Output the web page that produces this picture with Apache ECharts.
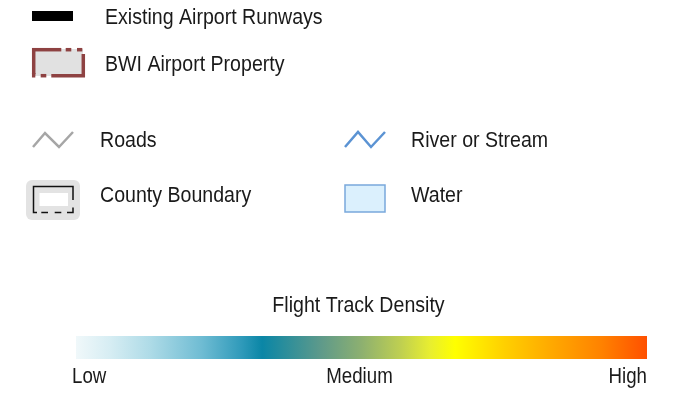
<!DOCTYPE html>
<html>
<head>
<meta charset="utf-8">
<script src="https://cdn.jsdelivr.net/npm/echarts@6/dist/echarts.min.js"></script>
<style>
  html, body { margin: 0; padding: 0; background: #fff; }
  #main { width: 687px; height: 402px; }
</style>
</head>
<body>
<div id="main"></div>
<script>
// legend entries
var legendNames = ['Existing Airport Runways', 'BWI Airport Property', 'Roads', 'River or Stream', 'County Boundary', 'Water'];
// density scale
var densityTitle = 'Flight Track Density';
var densityLabels = ['Low', 'Medium', 'High'];
var densityTicks = [0, 0.5, 1];
var stopOffsets = [0, 0.06, 0.13, 0.22, 0.29, 0.326, 0.43, 0.5, 0.57, 0.62, 0.664, 0.75, 0.83, 0.92, 1];
var stopColors = ['#f0f8fa', '#d6edf3', '#aedbe7', '#6fbcd3', '#2f9aba', '#0a86a6', '#5f9a8a', '#8db070', '#c0d050', '#e8ee30', '#ffff00', '#ffd000', '#ffaa00', '#ff8200', '#ff5000'];

var FONT = "'Liberation Sans', Arial, sans-serif";
var TXT = '#1a1a1a';

var myChart = echarts.init(document.getElementById('main'));

var stops = stopOffsets.map(function (o, i) {
  return { offset: o, color: stopColors[i] };
});

function seg(pts, color, w) {
  return {
    type: 'polyline',
    shape: { points: pts },
    style: { stroke: color, lineWidth: w, fill: null }
  };
}
// the original uses a condensed face, so squeeze the text a bit
function label(text, x, y, align, narrow) {
  return {
    type: 'text', x: x, y: y, scaleX: narrow || 0.89,
    style: {
      text: text, font: '22px ' + FONT, fill: TXT,
      textAlign: align || 'left', textVerticalAlign: 'middle'
    }
  };
}

var red = '#8e4242';
var graphics = [
  // runways
  { type: 'rect', shape: { x: 32, y: 11, width: 41, height: 10 }, style: { fill: '#000' } },
  // airport property
  { type: 'rect', shape: { x: 33, y: 49, width: 50, height: 27 }, style: { fill: '#e1e1e1' } },
  seg([[32, 49.7], [61.3, 49.7]], red, 3.5),
  seg([[65.7, 49.7], [71.3, 49.7]], red, 3.5),
  seg([[77, 49.7], [82.3, 49.7]], red, 3.5),
  seg([[83.3, 54], [83.3, 75.7], [51.3, 75.7]], red, 3.5),
  seg([[46.3, 75.7], [40.7, 75.7]], red, 3.5),
  seg([[35.3, 75.7], [33.7, 75.7], [33.7, 73]], red, 3.5),
  seg([[33.7, 74], [33.7, 48]], red, 3.5),
  // roads
  seg([[33, 147], [45, 133], [59, 147], [73, 132]], '#a6a6a6', 2.5),
  // river
  seg([[345, 147], [358, 132], [371, 147], [385, 132]], '#5b93d3', 2.5),
  // county boundary
  { type: 'rect', shape: { x: 26, y: 180, width: 54, height: 40, r: 6 }, style: { fill: '#e3e3e3' } },
  { type: 'rect', shape: { x: 39.5, y: 193, width: 28.5, height: 13 }, style: { fill: '#fff' } },
  seg([[73, 200], [73, 186.5], [33.5, 186.5], [33.5, 212.5], [37, 212.5]], '#111', 1.5),
  seg([[41.3, 212.5], [48, 212.5]], '#111', 1.5),
  seg([[54.7, 212.5], [61.3, 212.5]], '#111', 1.5),
  seg([[67, 212.5], [73, 212.5], [73, 207.5]], '#111', 1.5),
  // water
  { type: 'rect', shape: { x: 345, y: 185, width: 40, height: 27 }, style: { fill: '#dbf0fd', stroke: '#7aa8dc', lineWidth: 1.5 } },
  // texts
  label(legendNames[0], 105, 18),
  label(legendNames[1], 105, 65),
  label(legendNames[2], 100, 141),
  label(legendNames[3], 411, 141),
  label(legendNames[4], 100, 196),
  label(legendNames[5], 411, 196)
];

var option = {
  animation: false,
  grid: { left: 76, right: 40, top: 336, height: 23, containLabel: false },
  xAxis: {
    type: 'value',
    min: 0,
    max: 1,
    interval: 0.5,
    axisLine: { show: false },
    axisTick: { show: false },
    splitLine: { show: false },
    axisLabel: { show: false }
  },
  yAxis: {
    type: 'category',
    data: [densityTitle],
    show: false
  },
  series: [{
    type: 'bar',
    barWidth: '100%',
    data: [1],
    silent: true,
    itemStyle: { color: new echarts.graphic.LinearGradient(0, 0, 1, 0, stops) }
  }],
  graphic: graphics
};

myChart.setOption(option);

// scale title and Low / Medium / High placed from the axis itself
var x0 = myChart.convertToPixel({ xAxisIndex: 0 }, densityTicks[0]);
var x1 = myChart.convertToPixel({ xAxisIndex: 0 }, densityTicks[densityTicks.length - 1]);
graphics.push(label(densityTitle, (x0 + x1) / 2 - 3, 306, 'center'));
densityTicks.forEach(function (t, i) {
  var x = myChart.convertToPixel({ xAxisIndex: 0 }, t);
  var align = 'center';
  if (i === 0) { align = 'left'; x -= 4; }
  else if (i === densityTicks.length - 1) { align = 'right'; }
  else { x -= 2; }
  graphics.push(label(densityLabels[i], x, 377, align, 0.85));
});
myChart.setOption({ graphic: graphics });
</script>
</body>
</html>
